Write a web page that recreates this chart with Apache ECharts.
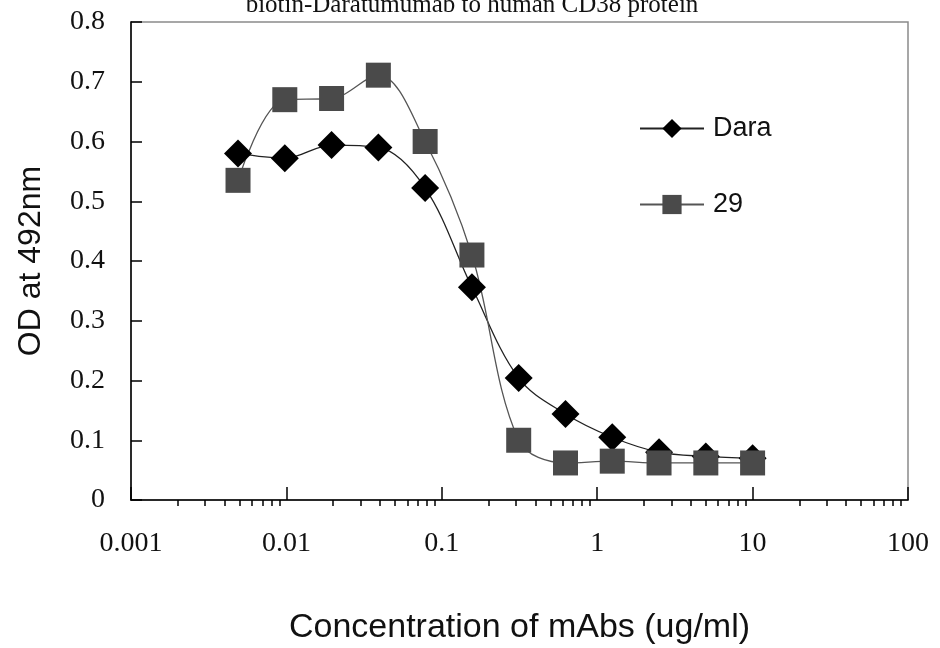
<!DOCTYPE html>
<html>
<head>
<meta charset="utf-8">
<script src="https://cdn.jsdelivr.net/npm/echarts@6/dist/echarts.min.js"></script>
<style>
html,body{margin:0;padding:0;background:#fff;}
#chart{width:940px;height:648px;}
</style>
</head>
<body>
<div id="chart"></div>
<script>
// Concentrations (ug/ml), 2-fold dilutions
const concentrations = [0.0048828, 0.0097656, 0.0195313, 0.0390625, 0.078125, 0.15625, 0.3125, 0.625, 1.25, 2.5, 5, 10];
const daraValues = [0.580, 0.572, 0.594, 0.590, 0.522, 0.356, 0.204, 0.144, 0.105, 0.080, 0.073, 0.070];
const ab29Values = [0.535, 0.670, 0.672, 0.711, 0.600, 0.410, 0.100, 0.062, 0.065, 0.062, 0.062, 0.062];
const seriesNames = ['Dara', '29'];
const xTickLabels = ['0.001', '0.01', '0.1', '1', '10', '100'];
const yTickLabels = ['0', '0.1', '0.2', '0.3', '0.4', '0.5', '0.6', '0.7', '0.8'];
const titleText = 'biotin-Daratumumab to human CD38 protein';
const xAxisTitle = 'Concentration of mAbs (ug/ml)';
const yAxisTitle = 'OD at 492nm';

// minor tick positions (log10 of 2..9 in each decade), used on a decorative axis
const minorTickPositions = [];
for (let d = -3; d < 2; d++) {
  for (let k = 2; k <= 9; k++) minorTickPositions.push(d + Math.log10(k));
}

const pairs = (xs, ys) => xs.map((x, i) => [x, ys[i]]);

const serif = 'Liberation Serif';
const sans = 'Liberation Sans';

const chart = echarts.init(document.getElementById('chart'), null, {renderer: 'canvas'});
chart.setOption({
  animation: false,
  backgroundColor: '#fff',
  title: {
    text: titleText,
    left: 467,
    textAlign: 'center',
    top: -12,
    textStyle: {fontFamily: serif, fontSize: 25, fontWeight: 'normal', color: '#111'}
  },
  legend: [
    {
      data: [seriesNames[0]],
      orient: 'vertical',
      left: 634, top: 110,
      itemWidth: 64, itemHeight: 24,
      textStyle: {fontFamily: sans, fontSize: 27, color: '#111', lineHeight: 24, padding: [0, 0, 0, 4]}
    },
    {
      data: [seriesNames[1]],
      orient: 'vertical',
      left: 634, top: 186,
      itemWidth: 64, itemHeight: 24,
      textStyle: {fontFamily: sans, fontSize: 27, color: '#111', lineHeight: 24, padding: [0, 0, 0, 4]}
    }
  ],
  grid: {
    left: 131, right: 32, top: 22, bottom: 148,
    outerBoundsMode: 'none',
    containLabel: false,
    show: true, borderColor: '#8a8a8a', borderWidth: 1.5, backgroundColor: 'transparent'
  },
  xAxis: [
    {
      type: 'log',
      logBase: 10,
      min: 0.001,
      max: 100,
      name: xAxisTitle,
      nameLocation: 'middle',
      nameGap: 111,
      nameTextStyle: {fontFamily: sans, fontSize: 34, color: '#111'},
      axisLine: {show: true, onZero: false, lineStyle: {color: '#000', width: 1.5}},
      axisTick: {show: true, inside: true, length: 13, lineStyle: {color: '#000', width: 1.5}},
      axisLabel: {
        fontFamily: serif, fontSize: 28, color: '#111', margin: 30,
        formatter: function (v, i) { return xTickLabels[i] !== undefined ? xTickLabels[i] : ''; }
      },
      splitLine: {show: false},
      minorTick: {show: false}
    },
    {
      type: 'value',
      min: -3,
      max: 2,
      position: 'bottom',
      axisLine: {show: false, onZero: false},
      axisTick: {show: true, inside: false, length: 6, customValues: minorTickPositions, lineStyle: {color: '#000', width: 1.5}},
      axisLabel: {show: false},
      splitLine: {show: false}
    }
  ],
  yAxis: {
    type: 'value',
    min: 0,
    max: 0.8,
    interval: 0.1,
    name: yAxisTitle,
    nameLocation: 'middle',
    nameRotate: 90,
    nameGap: 84,
    nameTextStyle: {fontFamily: sans, fontSize: 32, color: '#111'},
    axisLine: {show: true, onZero: false, lineStyle: {color: '#000', width: 1.5}},
    axisTick: {show: true, inside: true, length: 11, lineStyle: {color: '#000', width: 1.5}},
    axisLabel: {
      fontFamily: serif, fontSize: 28, color: '#111', margin: 26,
      formatter: function (v, i) { return yTickLabels[i] !== undefined ? yTickLabels[i] : ''; }
    },
    splitLine: {show: false}
  },
  series: [
    {
      name: seriesNames[0],
      type: 'line',
      xAxisIndex: 0,
      data: pairs(concentrations, daraValues),
      smooth: 0.35,
      symbol: 'diamond',
      symbolSize: 28,
      itemStyle: {color: '#000'},
      lineStyle: {color: '#222', width: 1.3}
    },
    {
      name: seriesNames[1],
      type: 'line',
      xAxisIndex: 0,
      data: pairs(concentrations, ab29Values),
      smooth: 0.35,
      symbol: 'rect',
      symbolSize: 25,
      itemStyle: {color: '#4a4a4a'},
      lineStyle: {color: '#555', width: 1.3}
    }
  ]
});
</script>
</body>
</html>
